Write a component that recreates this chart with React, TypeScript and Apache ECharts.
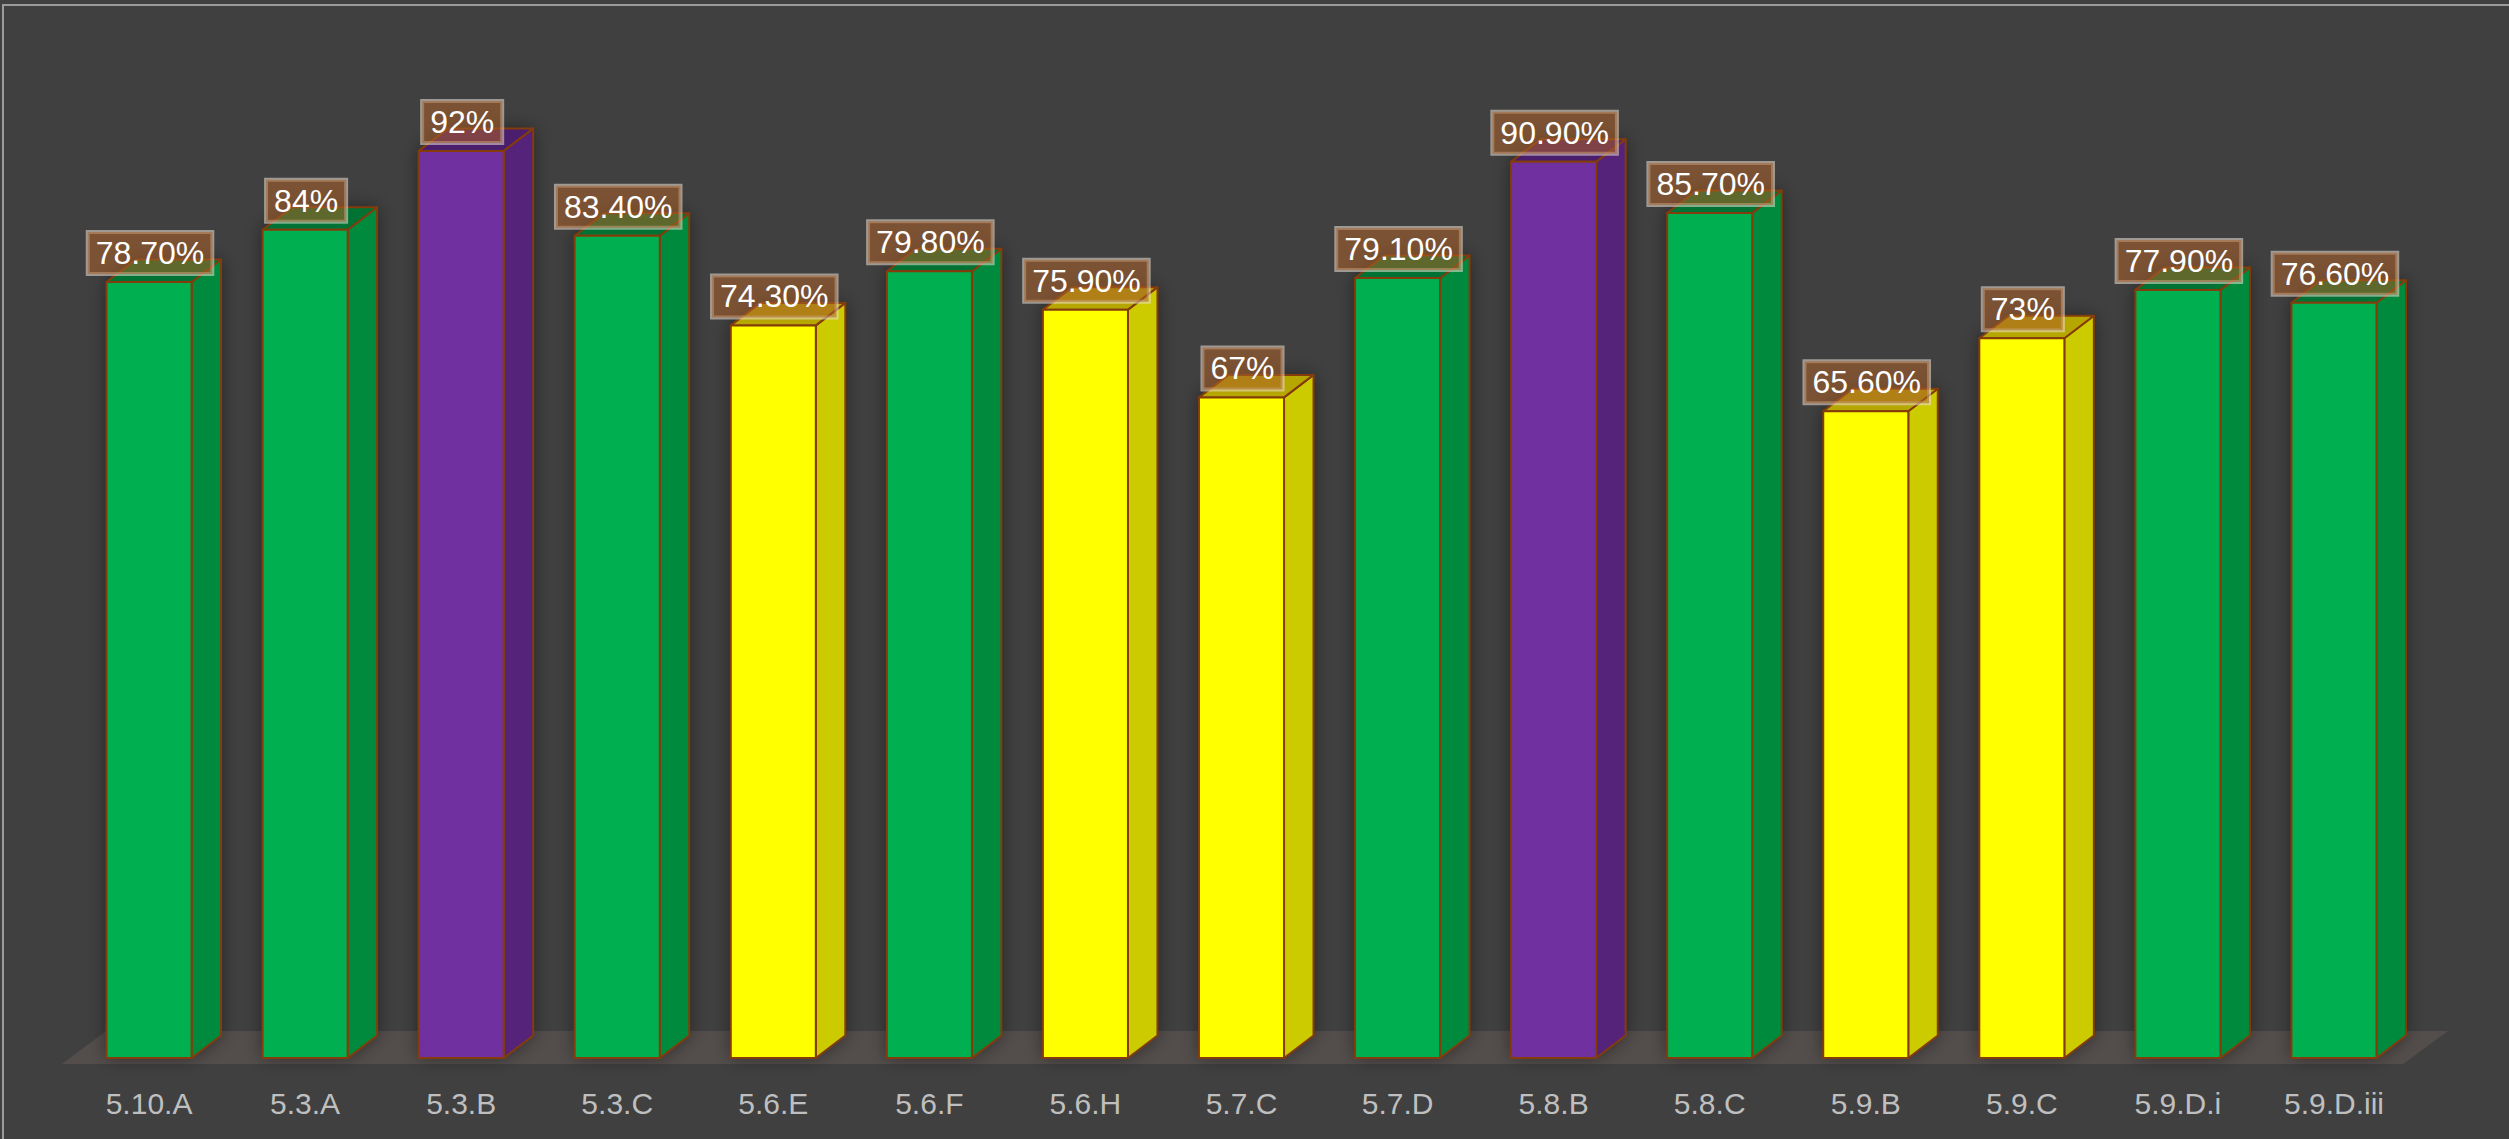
import React, { useEffect, useRef } from "react";
import * as echarts from "echarts";

const categories = ["5.10.A", "5.3.A", "5.3.B", "5.3.C", "5.6.E", "5.6.F", "5.6.H", "5.7.C", "5.7.D", "5.8.B", "5.8.C", "5.9.B", "5.9.C", "5.9.D.i", "5.9.D.iii"];
const values = [78.7, 84, 92, 83.4, 74.3, 79.8, 75.9, 67, 79.1, 90.9, 85.7, 65.6, 73, 77.9, 76.6];
const valueLabels = ["78.70%", "84%", "92%", "83.40%", "74.30%", "79.80%", "75.90%", "67%", "79.10%", "90.90%", "85.70%", "65.60%", "73%", "77.90%", "76.60%"];
const colorGroups = ["green", "green", "purple", "green", "yellow", "green", "yellow", "yellow", "green", "purple", "green", "yellow", "yellow", "green", "green"];

const palette: Record<string, { front: string; side: string; top: string }> = {
  green: { front: "#00b050", side: "#008a3d", top: "#007233" },
  purple: { front: "#7030a0", side: "#55247a", top: "#4a1e6c" },
  yellow: { front: "#ffff00", side: "#cbcb00", top: "#b6a600" },
};

const FONT = "'Liberation Sans', Arial, sans-serif";
const OUTLINE = "#843c0c";

export default function App() {
  const ref = useRef<HTMLDivElement>(null);
  useEffect(() => {
    if (!ref.current) return;
    const chart = echarts.init(ref.current, null, { renderer: "svg" });
    const n = categories.length;
    const option: any = {
      animation: false,
      backgroundColor: "#404040",
      grid: { left: 71, right: 97, top: 72, bottom: 81 },
      xAxis: {
        type: "category",
        data: categories,
        axisLine: { show: false },
        axisTick: { show: false },
        splitLine: { show: false },
        axisLabel: { color: "#bfbfbf", fontSize: 30, fontFamily: FONT, margin: 30, interval: 0 },
      },
      yAxis: { type: "value", min: 0, max: 100, show: false, splitLine: { show: false } },
      graphic: [
        {
          type: "rect",
          shape: { x: 3, y: 5, width: 2600, height: 1200 },
          style: { fill: "none", stroke: "#9a9a9a", lineWidth: 2 },
          silent: true,
        },
      ],
      series: [
        {
          type: "custom",
          data: [[0, 0]],
          silent: true,
          renderItem: (params: any, api: any) => {
            const first = api.coord([0, 0]);
            const last = api.coord([n - 1, 0]);
            const band = api.size([1, 0])[0];
            const x0 = first[0] - band / 2 - 9;
            const x1 = last[0] + band / 2 - 9;
            const y = first[1] + 6;
            return {
              type: "polygon",
              shape: { points: [[x0, y], [x1, y], [x1 + 45, y - 33], [x0 + 44, y - 33]] },
              style: { fill: "#534e4c" },
            };
          },
        },
        {
          type: "custom",
          data: values.map((v, i) => [i, v]),
          renderItem: (params: any, api: any) => {
            const idx = api.value(0);
            const v = api.value(1);
            const top = api.coord([idx, v]);
            const base = api.coord([idx, 0]);
            const band = api.size([1, 0])[0];
            const w = band * 0.545;
            const cx = top[0];
            const xl = cx - w / 2;
            const xr = cx + w / 2;
            const yt = top[1];
            const yb = base[1];
            const dx = 29.5;
            const dy = -22.5;
            const c = palette[colorGroups[params.dataIndex]];
            const edge = { stroke: OUTLINE, lineWidth: 2, lineJoin: "round" };
            return {
              type: "group",
              children: [
                {
                  type: "polygon",
                  shape: { points: [[xl, yb], [xl, yt], [xl + dx, yt + dy], [xr + dx, yt + dy], [xr + dx, yb + dy], [xr, yb]] },
                  style: { fill: c.side, shadowBlur: 18, shadowColor: "rgba(0,0,0,0.45)" },
                },
                {
                  type: "polygon",
                  shape: { points: [[xr, yt], [xr + dx, yt + dy], [xr + dx, yb + dy], [xr, yb]] },
                  style: { fill: c.side, ...edge },
                },
                {
                  type: "polygon",
                  shape: { points: [[xl, yt], [xl + dx, yt + dy], [xr + dx, yt + dy], [xr, yt]] },
                  style: { fill: c.top, ...edge },
                },
                {
                  type: "rect",
                  shape: { x: xl, y: yt, width: w, height: yb - yt },
                  style: { fill: c.front, ...edge },
                },
                {
                  type: "text",
                  x: cx + 1,
                  y: yt - 8,
                  style: {
                    text: valueLabels[params.dataIndex],
                    fill: "#ffffff",
                    fontSize: 32,
                    fontFamily: FONT,
                    align: "center",
                    verticalAlign: "bottom",
                    lineHeight: 34,
                    backgroundColor: "rgba(172,96,40,0.55)",
                    borderColor: "rgba(235,225,215,0.55)",
                    borderWidth: 2,
                    padding: [4, 8, 4, 8],
                  },
                },
              ],
            };
          },
        },
      ],
    };
    chart.setOption(option);
    return () => chart.dispose();
  }, []);
  return <div ref={ref} style={{ position: "absolute", left: 0, top: 0, width: 2509, height: 1139 }} />;
}
